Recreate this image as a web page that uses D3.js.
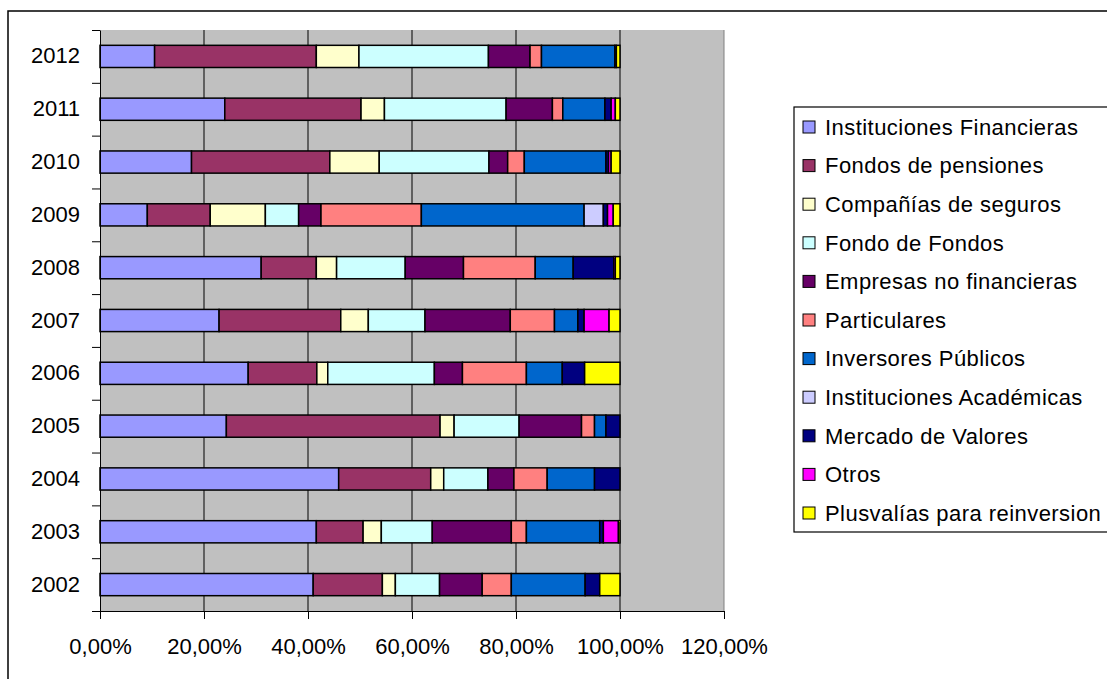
<!DOCTYPE html>
<html>
<head>
<meta charset="utf-8">
<script src="https://cdn.jsdelivr.net/npm/d3@7"></script>
<style>
  body { margin: 0; background: #fff; }
  svg { display: block; font-family: "Liberation Sans", Arial, sans-serif; }
</style>
</head>
<body>
<div id="graphicContainer"></div>
<script>
var years = ["2002", "2003", "2004", "2005", "2006", "2007", "2008", "2009", "2010", "2011", "2012"];

var series = ["Instituciones Financieras", "Fondos de pensiones", "Compañías de seguros",
  "Fondo de Fondos", "Empresas no financieras", "Particulares", "Inversores Públicos",
  "Instituciones Académicas", "Mercado de Valores", "Otros", "Plusvalías para reinversion"];

var colors = ["#9999FF", "#993366", "#FFFFCC", "#CCFFFF", "#660066", "#FF8080",
  "#0066CC", "#CCCCFF", "#000080", "#FF00FF", "#FFFF00"];

// shares in %, one array per series, in the order of years
var instFinancieras = [41.0, 41.6, 45.9, 24.3, 28.5, 22.9, 31.0, 9.1, 17.6, 24.0, 10.5];
var fondosPensiones = [13.3, 9.0, 17.7, 41.1, 13.2, 23.4, 10.6, 12.1, 26.6, 26.2, 31.1];
var companiasSeguros = [2.5, 3.5, 2.5, 2.7, 2.1, 5.3, 3.9, 10.6, 9.5, 4.5, 8.2];
var fondoDeFondos = [8.5, 9.8, 8.5, 12.5, 20.5, 10.9, 13.2, 6.4, 21.1, 23.4, 24.9];
var empresasNoFin = [8.2, 15.2, 5.0, 12.0, 5.4, 16.4, 11.2, 4.3, 3.6, 8.9, 8.0];
var particulares = [5.6, 2.9, 6.4, 2.5, 12.3, 8.5, 13.8, 19.3, 3.2, 2.0, 2.2];
var inversoresPublicos = [14.2, 14.1, 9.1, 2.2, 6.9, 4.5, 7.3, 31.3, 15.7, 8.1, 14.1];
var instAcademicas = [0, 0, 0, 0, 0, 0, 0, 3.7, 0, 0, 0];
var mercadoValores = [2.8, 0.7, 4.9, 2.7, 4.3, 1.2, 7.8, 0.8, 0.5, 1.2, 0.3];
var otros = [0, 2.9, 0, 0, 0, 4.8, 0.3, 1.1, 0.5, 0.8, 0];
var plusvalias = [3.9, 0.3, 0, 0, 6.8, 2.1, 0.9, 1.3, 1.7, 0.9, 0.7];

var xTicks = [0, 0.2, 0.4, 0.6, 0.8, 1.0, 1.2];

var values = [instFinancieras, fondosPensiones, companiasSeguros, fondoDeFondos,
  empresasNoFin, particulares, inversoresPublicos, instAcademicas, mercadoValores,
  otros, plusvalias];

var table = years.map(function(y, i) {
  var row = { year: y };
  series.forEach(function(s, k) { row[s] = values[k][i] / 100; });
  return row;
});

var W = 1107, H = 679;
var plot = { left: 100, right: 724, top: 30, bottom: 611 };

var svg = d3.select("#graphicContainer").append("svg")
  .attr("width", W)
  .attr("height", H);

// outer chart frame (runs off the right and bottom edges)
svg.append("rect")
  .attr("x", 8).attr("y", 11)
  .attr("width", W + 20).attr("height", H + 20)
  .attr("fill", "#fff")
  .attr("stroke", "#000")
  .attr("stroke-width", 1.5);

var x = d3.scaleLinear().domain([0, 1.2]).range([plot.left, plot.right]);
var y = d3.scaleBand()
  .domain(years.slice().reverse())
  .range([plot.top, plot.bottom])
  .paddingInner(0.58)
  .paddingOuter(0.29);

// plot area
svg.append("rect")
  .attr("x", plot.left).attr("y", plot.top)
  .attr("width", plot.right - plot.left).attr("height", plot.bottom - plot.top)
  .attr("fill", "#C0C0C0");

svg.append("g")
  .selectAll("line")
  .data(xTicks.slice(1))
  .join("line")
  .attr("x1", function(d) { return x(d); })
  .attr("x2", function(d) { return x(d); })
  .attr("y1", plot.top)
  .attr("y2", plot.bottom)
  .attr("stroke", function(d, i) { return i == xTicks.length - 2 ? "#808080" : "#000"; })
  .attr("stroke-width", 1);

var stack = d3.stack().keys(series);
var layers = stack(table);

svg.append("g")
  .selectAll("g")
  .data(layers)
  .join("g")
  .attr("fill", function(d, i) { return colors[i]; })
  .selectAll("rect")
  .data(function(d) { return d.filter(function(p) { return p[1] - p[0] > 0; }); })
  .join("rect")
  .attr("x", function(d) { return x(d[0]); })
  .attr("width", function(d) { return x(d[1]) - x(d[0]); })
  .attr("y", function(d) { return y(d.data.year); })
  .attr("height", y.bandwidth())
  .attr("stroke", "#000")
  .attr("stroke-width", 1.5);

// x axis
var xAxis = d3.axisBottom(x)
  .tickValues(xTicks)
  .tickSize(8)
  .tickSizeOuter(0)
  .tickPadding(19)
  .tickFormat(function(d) { return (d * 100).toFixed(2).replace(".", ",") + "%"; });

var gx = svg.append("g")
  .attr("transform", "translate(0," + plot.bottom + ")")
  .call(xAxis);

// y axis: labels at band centers, ticks at band boundaries
var bounds = d3.scaleLinear().domain([0, years.length]).range([plot.top, plot.bottom]);
var gyTicks = svg.append("g")
  .attr("transform", "translate(" + plot.left + ",0)")
  .call(d3.axisLeft(bounds).ticks(years.length).tickSize(8).tickSizeOuter(0).tickFormat(""));

var gy = svg.append("g")
  .attr("transform", "translate(" + plot.left + ",0)")
  .call(d3.axisLeft(y).tickSize(0).tickPadding(20));

gy.select(".domain").remove();

svg.selectAll(".tick text")
  .attr("font-size", 22)
  .attr("font-family", "Liberation Sans, Arial, sans-serif")
  .attr("fill", "#000");

svg.selectAll(".domain, .tick line").attr("stroke", "#000");

// legend
var legend = svg.append("g");

legend.append("rect")
  .attr("x", 794).attr("y", 107)
  .attr("width", 400).attr("height", 425)
  .attr("fill", "#fff")
  .attr("stroke", "#000")
  .attr("stroke-width", 1.2);

var item = legend.selectAll("g.item")
  .data(series)
  .join("g")
  .attr("class", "item")
  .attr("transform", function(d, i) { return "translate(803," + (127 + i * 38.6) + ")"; });

item.append("rect")
  .attr("x", 0).attr("y", -6)
  .attr("width", 12).attr("height", 12)
  .attr("fill", function(d, i) { return colors[i]; })
  .attr("stroke", "#000")
  .attr("stroke-width", 1);

item.append("text")
  .attr("x", 22)
  .attr("dy", "0.35em")
  .attr("font-size", 22)
  .attr("letter-spacing", 0.45)
  .text(function(d) { return d; });
</script>
</body>
</html>
